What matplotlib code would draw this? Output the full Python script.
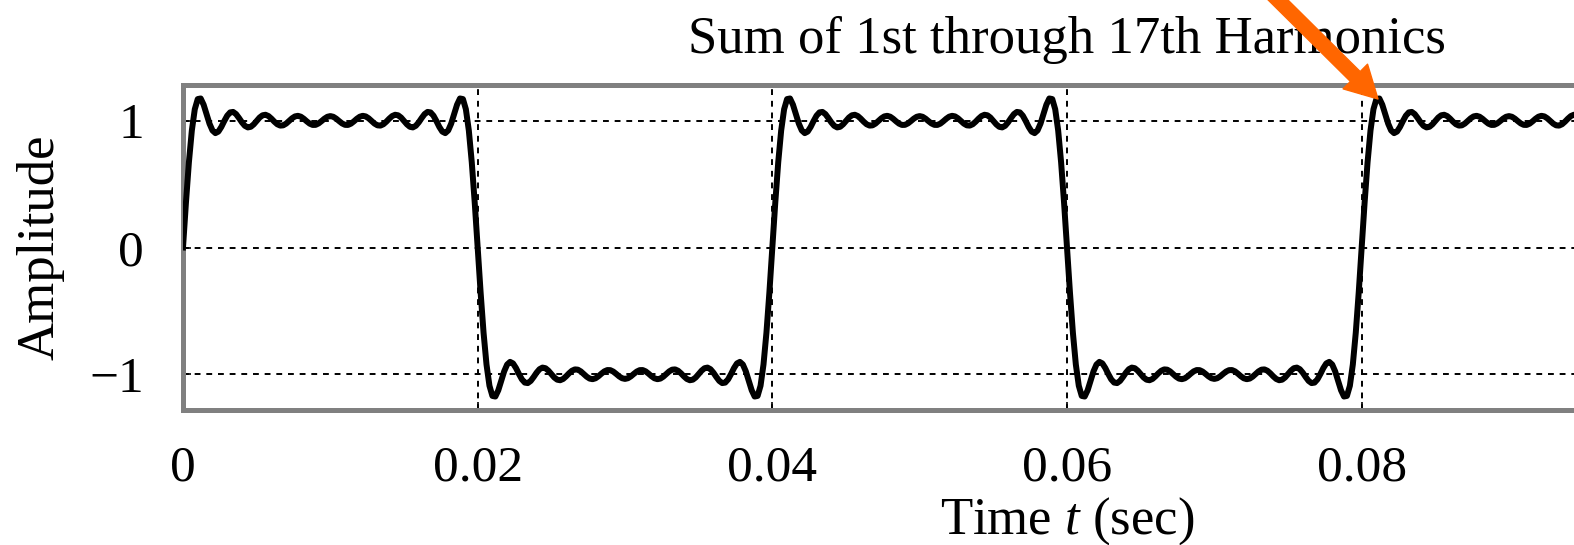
import numpy as np
import matplotlib
matplotlib.use("Agg")
import matplotlib.pyplot as plt

# ---- data ----
harmonics = [1, 3, 5, 7, 9, 11, 13, 15, 17]
amplitudes = [1.2732, 0.4244, 0.2546, 0.1819, 0.1415, 0.1157, 0.0979, 0.0849, 0.0749]
fundamental_hz = 25.0
x_ticks = [0, 0.02, 0.04, 0.06, 0.08]
x_tick_labels = ["0", "0.02", "0.04", "0.06", "0.08"]
y_ticks = [-1, 0, 1]
y_tick_labels = ["\u22121", "0", "1"]
title_text = "Sum of 1st through 17th Harmonics"
x_label = "Time $t$ (sec)"
y_label = "Amplitude"

plt.rcParams["font.family"] = ["Liberation Serif", "DejaVu Serif"]
plt.rcParams["mathtext.fontset"] = "custom"
plt.rcParams["mathtext.rm"] = "Liberation Serif"
plt.rcParams["mathtext.it"] = "Liberation Serif:italic"

t = np.arange(0, 0.12 + 1e-9, 0.0002)
y = np.zeros_like(t)
for k, a in zip(harmonics, amplitudes):
    y += a * np.sin(2 * np.pi * k * fundamental_hz * t)

W, H = 1574, 545
fig = plt.figure(figsize=(W / 100, H / 100), dpi=100)
ax = fig.add_axes([183 / W, 135 / H, 1768 / W, 325 / H])

ax.plot(t, y, color="black", lw=4.3, solid_joinstyle="round", zorder=3)
ax.set_xlim(0, 0.12)
ax.set_ylim(-1.28, 1.28)

ax.set_xticks(x_ticks)
ax.set_xticklabels(x_tick_labels)
ax.set_yticks(y_ticks)
ax.set_yticklabels(y_tick_labels)
ax.tick_params(direction="in", length=6, width=1.2, color="black",
               labelsize=37, pad=25)
ax.tick_params(axis="y", pad=28)

ax.grid(True, color="black", linestyle=(0, (3, 3)), lw=1.4)
for s in ax.spines.values():
    s.set_color("#808080")
    s.set_linewidth(3.6)

ax.set_title(title_text, fontsize=38, pad=23)
ax.set_xlabel(x_label, fontsize=38)
ax.xaxis.set_label_coords(0.5, -0.262)
ax.set_ylabel(y_label, fontsize=38)
ax.yaxis.set_label_coords(-0.067, 0.5)

ax.annotate("", xy=(1378, H - 99), xycoords="figure pixels",
            xytext=(1270, H + 8), textcoords="figure pixels",
            arrowprops=dict(arrowstyle="simple,head_length=1.15,head_width=1.25,tail_width=0.5",
                            mutation_scale=20, color="#ff6600", shrinkA=0, shrinkB=0),
            annotation_clip=False, zorder=5)

fig.savefig("out.png", dpi=100)
